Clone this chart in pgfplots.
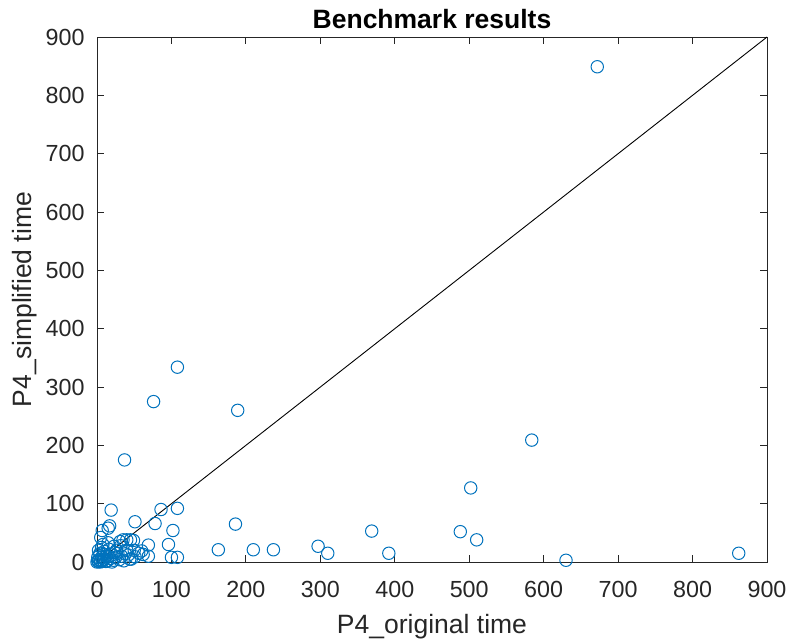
\documentclass[border=0pt]{standalone}
\usepackage{pgfplots}
\pgfplotsset{compat=1.18}
\usepackage{fontspec}
\setmainfont{Liberation Sans}
\definecolor{mblue}{rgb}{0,0.447,0.741}
\definecolor{axgray}{rgb}{0.15,0.15,0.15}
\begin{document}
\begin{tikzpicture}
\begin{axis}[
  name=ax,
  scale only axis,
  width=335bp, height=262.5bp,
  xmin=0, xmax=900, ymin=0, ymax=900,
  xtick={0,100,...,900}, ytick={0,100,...,900},
  tick align=inside,
  major tick length=3.4bp,
  axis line style={axgray, line width=0.5bp},
  every tick/.style={axgray, line width=0.5bp},
  tick label style={font=\fontsize{11.7}{14}\selectfont, text=axgray},
  /pgf/number format/assume math mode=true,
  xticklabel style={anchor=base, inner sep=0pt, yshift=-17.5bp},
  yticklabel style={anchor=east, inner sep=0pt, xshift=-6bp},
  every axis title/.style={at={(rel axis cs:0.5,1)}, anchor=base, yshift=4.5bp, font=\bfseries\fontsize{13.3}{16}\selectfont, inner sep=0pt},
  every axis x label/.style={at={(rel axis cs:0.5,0)}, anchor=base, yshift=-35.5bp, font=\fontsize{13.3}{16}\selectfont, text=axgray, inner sep=0pt},
  every axis y label/.style={at={(rel axis cs:0,0.5)}, xshift=-32.5bp, rotate=90, anchor=base, font=\fontsize{13.3}{16}\selectfont, text=axgray, inner sep=0pt},
  title={Benchmark results},
  xlabel={P4\_original time},
  ylabel={P4\_simplified time},
  clip=false,
]
\addplot[black, line width=0.45bp] coordinates {(0,0) (900,900)};
\addplot[only marks, mark=o, mark size=3.1bp, mark options={mblue, line width=0.5bp}] coordinates {
(672,849) (584,209) (502,127) (862,15) (630,3) (510,38) (488,52) (392,15)
(369,53) (310,15) (297,27) (108,334) (76,275) (189,260) (37,175) (19,89)
(86,90) (108,92) (51,69) (78,66) (102,54) (186,65) (163,21) (210,21)
(237,21) (100,8) (108,8) (96,30) (69,29) (69,10) (60,19) (62,13)
(51,9) (46,5) (17,62) (15,58) (7,54) (5,42) (35,38) (40,38)
(45,38) (49,37) (31,35) (15,33) (8,30) (23,27) (32,28) (44,5)
(0,0) (2,1) (3,4) (5,2) (6,8) (8,3) (10,5) (12,10) (4,15) (2,20)
(14,2) (18,6) (20,12) (22,3) (25,8) (28,15) (30,4) (33,10) (36,2) (38,14)
(10,18) (16,22) (6,25) (1,8) (3,12) (26,20) (40,20) (42,12) (12,1) (20,0)
(9,13) (24,16) (50,20) (56,15) (1,2) (4,0) (7,1) (15,9)
};
\end{axis}
\path ([xshift=-48.5bp, yshift=-40bp]ax.south west) rectangle ([xshift=12bp, yshift=18.5bp]ax.north east);
\end{tikzpicture}
\end{document}
